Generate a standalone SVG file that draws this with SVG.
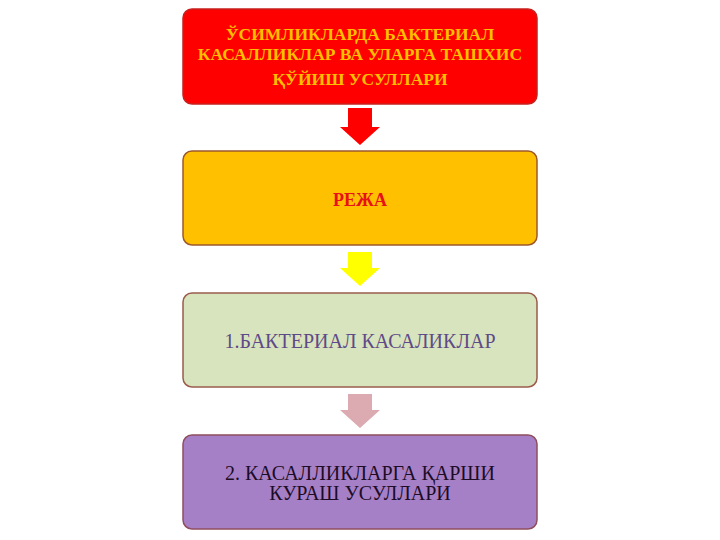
<svg xmlns="http://www.w3.org/2000/svg" width="720" height="540" viewBox="0 0 720 540">
<style>
.box{stroke-width:1.5}
.t{font-family:"Liberation Serif","Times New Roman",serif;text-anchor:middle}
</style>
<rect width="720" height="540" fill="#ffffff"/>
<g id="connectors">
<polygon points="348,108 372,108 372,127 380,127 360,145 340,127 348,127" fill="#FF0000"/>
<polygon points="348,252 372,252 372,268 380,268 360,286 340,268 348,268" fill="#FFFF00"/>
<polygon points="348,394 372,394 372,410 380,410 360,428 340,410 348,410" fill="#DCAAB1"/>
</g>
<g id="node1">
<rect class="box" x="183" y="9" width="354" height="95" rx="9" fill="#FF0000" stroke="#C8201E"/>
<text class="t" x="360" y="40" font-size="17.5" font-weight="bold" fill="#FFC000">ЎСИМЛИКЛАРДА БАКТЕРИАЛ</text>
<text class="t" x="360" y="60" font-size="17.5" font-weight="bold" fill="#FFC000">КАСАЛЛИКЛАР ВА УЛАРГА ТАШХИС</text>
<text class="t" x="360" y="85" font-size="17.5" font-weight="bold" fill="#FFC000">ҚЎЙИШ УСУЛЛАРИ</text>
</g>
<g id="node2">
<rect class="box" x="183" y="151" width="354" height="94" rx="9" fill="#FFC000" stroke="#9C5A2C"/>
<text class="t" x="360" y="206" font-size="18" font-weight="bold" fill="#E8101A">РЕЖА</text>
</g>
<g id="node3">
<rect class="box" x="183" y="293" width="354" height="94" rx="9" fill="#D7E4BD" stroke="#9B5B4B"/>
<text class="t" x="360" y="348" font-size="20" fill="#5F4A88">1.БАКТЕРИАЛ КАСАЛИКЛАР</text>
</g>
<g id="node4">
<rect class="box" x="183" y="435" width="354" height="94" rx="9" fill="#A680C6" stroke="#8E4E5E"/>
<text class="t" x="360" y="480" font-size="20" fill="#1C0C26">2. КАСАЛЛИКЛАРГА ҚАРШИ</text>
<text class="t" x="360" y="500" font-size="20" fill="#1C0C26">КУРАШ УСУЛЛАРИ</text>
</g>
</svg>
